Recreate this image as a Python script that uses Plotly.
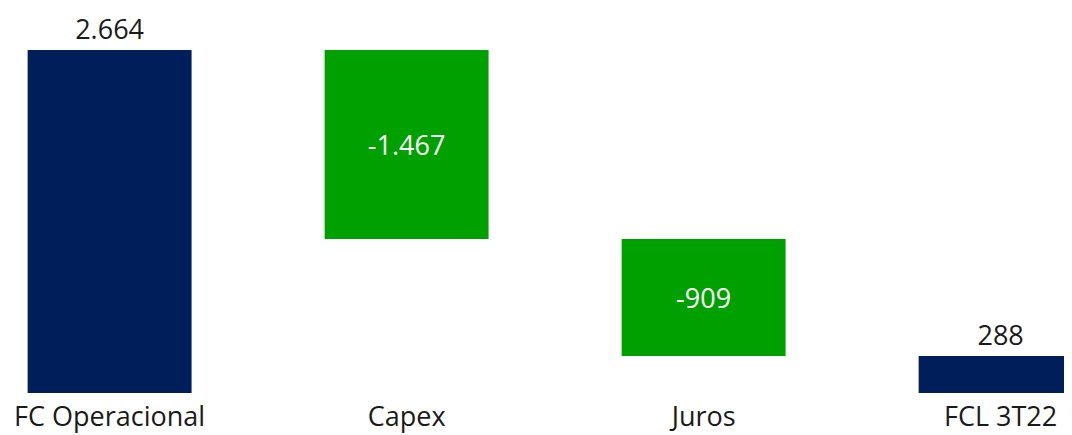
import plotly.graph_objects as go

categories = ["FC Operacional", "Capex", "Juros", "FCL 3T22"]
values = [2664, -1467, -909, 288]
measures = ["relative", "relative", "relative", "total"]
labels = [f"{v:,}".replace(",", ".") for v in values]

navy = "#001E5A"
green = "#00A000"

fig = go.Figure(go.Waterfall(
    x=categories,
    y=values,
    measure=measures,
    text=labels,
    textinfo="text",
    textposition=["outside", "inside", "inside", "outside"],
    insidetextanchor="middle",
    insidetextfont=dict(color="white", size=27, family="Open Sans"),
    outsidetextfont=dict(color="#1a1a1a", size=27, family="Open Sans"),
    increasing=dict(marker=dict(color=navy)),
    decreasing=dict(marker=dict(color=green)),
    totals=dict(marker=dict(color=navy)),
    connector=dict(visible=False),
    width=0.552,
    cliponaxis=False,
))

fig.update_layout(
    width=1072, height=427,
    margin=dict(l=0, r=0, t=0, b=42),
    plot_bgcolor="white", paper_bgcolor="white",
    showlegend=False,
    xaxis=dict(range=[-0.3421, 3.2673], showgrid=False, zeroline=False, showline=False,
               ticks="", ticklabelstandoff=5,
               tickfont=dict(size=27, family="Open Sans", color="#1a1a1a")),
    yaxis=dict(range=[0, 2990.3], visible=False, showgrid=False, zeroline=False),
)

fig.write_html("out.html")
